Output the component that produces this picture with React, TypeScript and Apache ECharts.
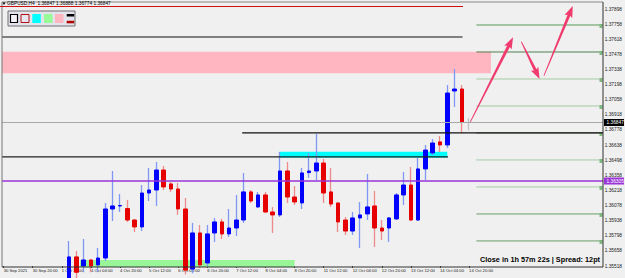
import React, { useEffect, useRef } from "react";
import * as echarts from "echarts";

// ---------- data ----------
const barDays = ["30 Sep", "1 Oct", "4 Oct", "5 Oct", "6 Oct", "7 Oct", "8 Oct", "11 Oct", "12 Oct", "13 Oct", "14 Oct"];
const barHours = ["00:00", "04:00", "08:00", "12:00", "16:00", "20:00"];
const firstLabel = "30 Sep 2021";
const emptySlots = 18;

const open = [
  1.3452, 1.3445, 1.3428, 1.3448, 1.3468, 1.3475, 1.347, 1.349, 1.3505, 1.3524,
  1.35602, 1.35518, 1.35574, 1.35528, 1.35592, 1.36046, 1.36074, 1.3605, 1.35944, 1.3588,
  1.36194, 1.36222, 1.36407, 1.36278, 1.36231, 1.36046, 1.3549, 1.35824, 1.35546, 1.35824,
  1.35926, 1.35815, 1.3587, 1.35944, 1.36204, 1.36065, 1.36176, 1.36018, 1.35991, 1.36398,
  1.36157, 1.36102, 1.36383, 1.36398, 1.36472, 1.36204, 1.36102, 1.35944, 1.35842, 1.35963,
  1.36, 1.36074, 1.3587, 1.3587, 1.35954, 1.36176, 1.36268, 1.35944, 1.36417, 1.36565,
  1.36667, 1.36639, 1.37139, 1.37157, 1.36847,
];
const close = [
  1.3445, 1.3428, 1.3448, 1.3468, 1.3475, 1.347, 1.349, 1.3505, 1.3524, 1.35602,
  1.3546, 1.35574, 1.35518, 1.35592, 1.36046, 1.36074, 1.36078, 1.35944, 1.3588, 1.36194,
  1.36222, 1.36407, 1.3625, 1.36231, 1.36046, 1.3548, 1.35824, 1.35528, 1.35815, 1.35926,
  1.35815, 1.3587, 1.35944, 1.36204, 1.3612, 1.36176, 1.36018, 1.35991, 1.36398, 1.36157,
  1.36111, 1.3638, 1.36398, 1.36472, 1.36194, 1.36092, 1.35926, 1.35842, 1.35963, 1.35991,
  1.36065, 1.3587, 1.35842, 1.35963, 1.36176, 1.36268, 1.35944, 1.36417, 1.36592, 1.36657,
  1.36639, 1.3712, 1.37157, 1.36852, 1.36847,
];
const low = [
  1.3432, 1.3412, 1.342, 1.344, 1.3458, 1.3462, 1.3465, 1.3482, 1.3498, 1.3518,
  1.354, 1.3546, 1.3546, 1.3546, 1.35565, 1.35935, 1.36018, 1.35926, 1.35833, 1.35842,
  1.3612, 1.36074, 1.36222, 1.36204, 1.35991, 1.3544, 1.3545, 1.355, 1.35518, 1.35741,
  1.35768, 1.35787, 1.35796, 1.35917, 1.36102, 1.36055, 1.36009, 1.35824, 1.35972, 1.36102,
  1.36083, 1.36046, 1.36333, 1.36315, 1.36102, 1.36065, 1.35833, 1.35805, 1.35805, 1.35685,
  1.35944, 1.35694, 1.35759, 1.35741, 1.35944, 1.36083, 1.35935, 1.35935, 1.36315, 1.36546,
  1.36574, 1.36611, 1.36991, 1.3675, 1.36774,
];
const high = [
  1.3461, 1.3452, 1.346, 1.3482, 1.349, 1.3484, 1.35, 1.3515, 1.3538, 1.3575,
  1.35657, 1.35768, 1.3558, 1.35685, 1.36102, 1.36398, 1.36185, 1.3613, 1.35954, 1.36268,
  1.36426, 1.36481, 1.36444, 1.36296, 1.36287, 1.36148, 1.35917, 1.35898, 1.35898, 1.35963,
  1.35954, 1.36046, 1.36176, 1.3638, 1.36222, 1.36204, 1.36204, 1.36065, 1.36574, 1.36481,
  1.36259, 1.36426, 1.36565, 1.36741, 1.36509, 1.36426, 1.36102, 1.35972, 1.36018, 1.36111,
  1.3637, 1.36213, 1.35944, 1.35972, 1.36194, 1.36389, 1.36435, 1.36518, 1.36639, 1.36694,
  1.36722, 1.37194, 1.37342, 1.37194, 1.36888,
];

// price axis
const priceMin = 1.35518;
const priceMax = 1.37963;
const priceStep = 0.0014;

// levels / objects (prices, in bar-index units for x)
const quarterLevels = [1.3775, 1.375, 1.3725, 1.37, 1.3675, 1.365, 1.3625, 1.36, 1.3575];
const quarterStart = 65;
const bidPrice = 1.36847;
const purpleLevel = 1.36305;
const topBlackLevel = 1.37639;
const topBlackEnd = 63.1;
const midBlackLevel = 1.3675;
const midBlackStart = 32.8;
const lowBlackLevel = 1.36528;
const lowBlackEnd = 61.1;
const pinkZone = [1.37303, 1.37503];
const pinkZoneEnd = 67;
const cyanZone = [1.36521, 1.36577];
const cyanZoneX = [37.9, 61.0];
const greenZoneTop = 1.35574;
const greenZoneX = [10.5, 40];
const arrowTails = [[64.16, 1.36852], [71.18, 1.37595], [74.28, 1.37278]];
const arrowHeads = [[70.04, 1.37636], [73.69, 1.3725], [78.25, 1.37926]];

const titleText = "GBPUSD,H4  1.36847 1.36888 1.36774 1.36847";
const footerText = "Close in 1h 57m 22s | Spread: 12pt";

// ---------- derived ----------
const categories: string[] = [];
barDays.forEach((d, di) => {
  barHours.forEach((h, hi) => {
    if (di === 0 && hi === 0) return;
    categories.push(d + " " + h);
  });
});
const nBars = categories.length;
for (let i = 0; i < emptySlots; i++) categories.push("");

const BLUE = "#0000ff";
const RED = "#e60000";
const WICK_UP = "#7f98f4";
const WICK_DN = "#f08a8a";
const GRAY = "#c4c4c4";

const wickData = open.map((o, i) => {
  const v = [o, close[i], low[i], high[i]];
  if (i === nBars - 1)
    return { value: v, itemStyle: { color: GRAY, color0: GRAY, borderColor: GRAY, borderColor0: GRAY } };
  return v;
});
const bodyData = open.map((o, i) => {
  const c = close[i];
  const v = [o, c, Math.min(o, c), Math.max(o, c)];
  if (i === nBars - 1)
    return { value: v, itemStyle: { color: GRAY, color0: GRAY, borderColor: GRAY, borderColor0: GRAY } };
  return v;
});

const FL = 2, FT = 2, FR = 603, FB = 267;

export default function App() {
  const ref = useRef<HTMLDivElement>(null);
  useEffect(() => {
    document.body.style.margin = "0";
    const chart = echarts.init(ref.current!, undefined, { renderer: "svg" });
    const showTick = (i: number) => i < nBars && i % 4 === 0;
    chart.setOption({
      animation: false,
      backgroundColor: "#f0f0f0",
      grid: { left: -0.65, top: 2, width: 606.7, height: 264, containLabel: false },
      xAxis: {
        type: "category",
        data: categories,
        boundaryGap: true,
        axisLine: { show: false },
        axisTick: { show: true, alignWithLabel: true, interval: (i: number) => showTick(i), length: 2, lineStyle: { color: "#444" } },
        axisLabel: {
          interval: (i: number) => showTick(i),
          align: "left",
          fontSize: 4.2,
          color: "#222",
          margin: 2.5,
          fontFamily: "Liberation Sans",
          formatter: (v: string, i: number) => (i === 0 ? firstLabel : v),
        },
        splitLine: { show: false },
      },
      yAxis: {
        type: "value",
        position: "right",
        min: priceMin,
        max: priceMax,
        interval: priceStep,
        axisLine: { show: false },
        axisTick: { show: false },
        splitLine: { show: false },
        axisLabel: {
          showMaxLabel: false,
          showMinLabel: true,
          fontSize: 4.8,
          color: "#222",
          margin: 1,
          fontFamily: "Liberation Sans",
          formatter: (v: number) => v.toFixed(5),
        },
      },
      series: [
        {
          type: "candlestick",
          data: wickData,
          barWidth: 1,
          clip: true,
          silent: true,
          z: 3,
          itemStyle: { color: WICK_UP, color0: WICK_DN, borderColor: WICK_UP, borderColor0: WICK_DN, borderWidth: 1.3 },
        },
        {
          type: "candlestick",
          data: bodyData,
          barWidth: 4,
          clip: true,
          silent: true,
          z: 4,
          itemStyle: { color: BLUE, color0: RED, borderColor: BLUE, borderColor0: RED, borderWidth: 1 },
        },
      ],
    });

    const x0 = chart.convertToPixel({ xAxisIndex: 0 }, 0) as number;
    const x1 = chart.convertToPixel({ xAxisIndex: 0 }, 1) as number;
    const xp = (f: number) => x0 + (x1 - x0) * f;
    const yp = (p: number) => chart.convertToPixel({ yAxisIndex: 0 }, p) as number;

    const els: any[] = [];
    const hline = (y: number, xa: number, xb: number, color: string, w: number, z: number) =>
      els.push({ type: "line", shape: { x1: xa, y1: y, x2: xb, y2: y }, style: { stroke: color, lineWidth: w }, z, silent: true });

    // zones (background)
    els.push({ type: "rect", shape: { x: FL, y: yp(pinkZone[1]), width: xp(pinkZoneEnd) - FL, height: yp(pinkZone[0]) - yp(pinkZone[1]) }, style: { fill: "#ffb6c1" }, z: 1 });
    els.push({ type: "rect", shape: { x: xp(cyanZoneX[0]), y: yp(cyanZone[1]), width: xp(cyanZoneX[1]) - xp(cyanZoneX[0]), height: yp(cyanZone[0]) - yp(cyanZone[1]) }, style: { fill: "#00ffff" }, z: 1 });
    els.push({ type: "rect", shape: { x: xp(greenZoneX[0]), y: yp(greenZoneTop), width: xp(greenZoneX[1]) - xp(greenZoneX[0]), height: FB - yp(greenZoneTop) }, style: { fill: "#98f598" }, z: 1 });

    // quarter levels
    const qColors = ["#5a9a5a", "#4f7f4f", "#a3cba3", "#a3cba3", "#6f8f6f", "#a3cba3", "#a3cba3", "#6a9f6a", "#6a9f6a"];
    quarterLevels.forEach((p, i) => {
      const y = yp(p);
      hline(y, xp(quarterStart), FR, qColors[i], 1, 2);
      els.push({ type: "rect", shape: { x: FR - 3.5, y: y - 1, width: 3, height: 4 }, style: { fill: "#7fb87f" }, z: 2 });
    });

    hline(yp(bidPrice), FL, FR, "#a8a8a8", 1, 5);
    hline(yp(topBlackLevel), FL, xp(topBlackEnd), "#111", 1.2, 5);
    hline(yp(midBlackLevel), xp(midBlackStart), FR, "#111", 1.2, 5);
    hline(yp(lowBlackLevel), FL, xp(lowBlackEnd), "#222", 1.3, 5);
    hline(yp(purpleLevel), FL, FR, "#9b35d8", 1.4, 5);

    // arrows
    arrowTails.forEach((t, i) => {
      const h = arrowHeads[i];
      const ax = xp(t[0]), ay = yp(t[1]), bx = xp(h[0]), by = yp(h[1]);
      const dx = bx - ax, dy = by - ay;
      const len = Math.sqrt(dx * dx + dy * dy);
      const ux = dx / len, uy = dy / len;
      const nx = -uy, ny = ux;
      const H = 10, W = 4.2;
      const cx = bx - ux * H, cy = by - uy * H;
      const pts = [
        [ax + nx * 0.4, ay + ny * 0.4],
        [cx + nx * 1.5, cy + ny * 1.5],
        [cx + nx * W - ux * 1.5, cy + ny * W - uy * 1.5],
        [bx, by],
        [cx - nx * W - ux * 1.5, cy - ny * W - uy * 1.5],
        [cx - nx * 1.5, cy - ny * 1.5],
        [ax - nx * 0.4, ay - ny * 0.4],
      ];
      els.push({ type: "polygon", shape: { points: pts }, style: { fill: "#ef3b6e" }, z: 20 });
    });

    // price tags on axis
    const tag = (p: number, fill: string) => {
      const y = yp(p);
      els.push({ type: "rect", shape: { x: 604, y: y - 3.5, width: 20, height: 7 }, style: { fill }, z: 30 });
      els.push({ type: "text", x: 606.5, y: y, style: { text: p.toFixed(5), fill: "#fff", fontSize: 4.8, fontFamily: "Liberation Sans", verticalAlign: "middle" }, z: 31 });
    };
    tag(bidPrice, "#000");
    tag(purpleLevel, "#9b35d8");

    // frame
    els.push({ type: "line", shape: { x1: FL, y1: FT, x2: FL, y2: FB }, style: { stroke: "#777", lineWidth: 1 }, z: 40 });
    els.push({ type: "line", shape: { x1: FL, y1: FT, x2: FR, y2: FT }, style: { stroke: "#888", lineWidth: 1 }, z: 40 });
    els.push({ type: "line", shape: { x1: FR, y1: FT, x2: FR, y2: FB }, style: { stroke: "#333", lineWidth: 1 }, z: 40 });
    els.push({ type: "line", shape: { x1: FL, y1: FB, x2: FR, y2: FB }, style: { stroke: "#333", lineWidth: 1 }, z: 40 });

    // title
    els.push({ type: "polygon", shape: { points: [[2.5, 2.5], [5.5, 2.5], [4, 5]] }, style: { fill: "#000" }, z: 41 });
    els.push({ type: "text", x: 7, y: 3.8, style: { text: titleText, fill: "#000", fontSize: 4.8, fontFamily: "Liberation Sans", verticalAlign: "middle" }, z: 41 });
    els.push({ type: "line", shape: { x1: 0, y1: 6.5, x2: 463, y2: 6.5 }, style: { stroke: "#d01010", lineWidth: 1 }, z: 41 });

    // toolbar
    els.push({ type: "rect", shape: { x: 8, y: 11, width: 67, height: 15 }, style: { fill: "#e3e3ec", stroke: "#707070", lineWidth: 1 }, z: 41 });
    els.push({ type: "rect", shape: { x: 10.5, y: 14.5, width: 7, height: 8 }, style: { fill: "#f4f4f8", stroke: "#000", lineWidth: 1.2 }, z: 42 });
    els.push({ type: "rect", shape: { x: 21, y: 14.5, width: 8, height: 8 }, style: { fill: "#e8e6f0", stroke: "#b01010", lineWidth: 1 }, z: 42 });
    els.push({ type: "rect", shape: { x: 32.3, y: 14, width: 8.5, height: 9 }, style: { fill: "#00ffff" }, z: 42 });
    els.push({ type: "rect", shape: { x: 44, y: 14, width: 8.5, height: 9 }, style: { fill: "#98fb98" }, z: 42 });
    els.push({ type: "rect", shape: { x: 55, y: 14, width: 8.5, height: 9 }, style: { fill: "#ffb6c1" }, z: 42 });
    els.push({ type: "rect", shape: { x: 66.7, y: 14, width: 7.5, height: 2.5 }, style: { fill: "#000" }, z: 42 });
    els.push({ type: "rect", shape: { x: 66.7, y: 20.8, width: 7.5, height: 2.5 }, style: { fill: "#b00000" }, z: 42 });

    // footer
    els.push({ type: "text", x: 480, y: 259, style: { text: footerText, fill: "#000", fontSize: 7.3, fontWeight: "bold", fontFamily: "Liberation Sans", verticalAlign: "middle" }, z: 41 });

    chart.setOption({ graphic: els });
    return () => chart.dispose();
  }, []);
  return <div ref={ref} style={{ width: 625, height: 278, background: "#f0f0f0" }} />;
}
